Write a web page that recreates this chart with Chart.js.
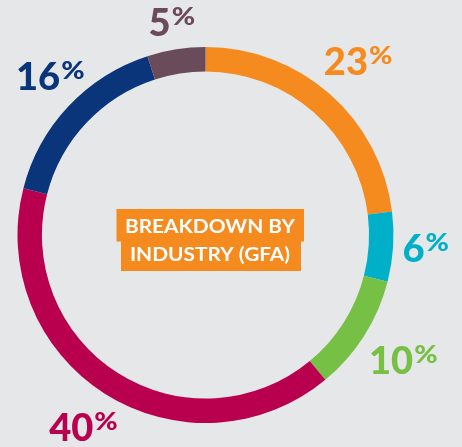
<!DOCTYPE html>
<html>
<head>
<meta charset="utf-8">
<script src="https://cdn.jsdelivr.net/npm/chart.js@4.4.1/dist/chart.umd.min.js"></script>
<style>
  html, body { margin: 0; padding: 0; background: #E6E7E9; }
  #wrap { width: 462px; height: 447px; }
</style>
</head>
<body>
<div id="wrap"><canvas id="c" width="462" height="447"></canvas></div>
<script>
const industries = ["Industry A", "Industry B", "Industry C", "Industry D", "Industry E", "Industry F"];
const shares = [23, 6, 10, 40, 16, 5];
const colors = ["#F58A1F", "#00B0C8", "#76C045", "#B8004F", "#0A357A", "#6A4B59"];
const centerTitle = ["BREAKDOWN BY", "INDUSTRY (GFA)"];

function scaledText(ctx, text, x, y, sx) {
  ctx.save();
  ctx.translate(x, y);
  ctx.scale(sx, 1);
  ctx.fillText(text, 0, 0);
  ctx.restore();
}

const bgPlugin = {
  id: 'bg',
  beforeDraw(chart) {
    const ctx = chart.ctx;
    ctx.save();
    ctx.fillStyle = '#E6E7E9';
    ctx.fillRect(0, 0, chart.width, chart.height);
    ctx.restore();
  }
};

const labelPlugin = {
  id: 'pctLabels',
  afterDatasetsDraw(chart) {
    const ctx = chart.ctx;
    const meta = chart.getDatasetMeta(0);
    const bigFont = '900 37px Lato';
    const smallFont = '900 24px Lato';
    const numSX = 1.03, pctSX = 1.18;
    const digitH = 27;
    meta.data.forEach((arc, i) => {
      const mid = (arc.startAngle + arc.endAngle) / 2;
      const cx = arc.x, cy = arc.y;
      const num = String(shares[i]);
      ctx.save();
      ctx.font = bigFont;
      const wNum = ctx.measureText(num).width * numSX;
      ctx.font = smallFont;
      const wPct = ctx.measureText('%').width * pctSX;
      const gap = 1;
      const w = wNum + gap + wPct;
      const c = Math.cos(mid), s = Math.sin(mid);
      const R = arc.outerRadius + 10 + Math.abs(c) * w / 2 + Math.abs(s) * digitH / 2;
      let px = cx + R * c;
      let py = cy + R * s;
      let left = px - w / 2;
      if (left < 16) left = 16;
      if (left + w > chart.width - 13) left = chart.width - 13 - w;
      const base = py + digitH / 2;
      ctx.fillStyle = colors[i];
      ctx.textBaseline = 'alphabetic';
      ctx.textAlign = 'left';
      ctx.font = bigFont;
      scaledText(ctx, num, left, base, numSX);
      ctx.font = smallFont;
      scaledText(ctx, '%', left + wNum + gap, base - digitH + 16, pctSX);
      ctx.restore();
    });
  }
};

const centerPlugin = {
  id: 'centerBox',
  afterDatasetsDraw(chart) {
    const ctx = chart.ctx;
    const meta = chart.getDatasetMeta(0);
    const cx = meta.data[0].x, cy = meta.data[0].y;
    ctx.save();
    ctx.fillStyle = '#F58A1F';
    ctx.fillRect(cx - 89, cy - 26, 187.5, 32.5);
    ctx.fillRect(cx - 84.5, cy + 6, 180, 30);
    ctx.fillStyle = '#FFFFFF';
    ctx.font = 'bold 19.5px Lato';
    ctx.textAlign = 'center';
    ctx.textBaseline = 'alphabetic';
    scaledText(ctx, centerTitle[0], cx + 4.5, cy - 2.5, 1.07);
    scaledText(ctx, centerTitle[1], cx + 4.5, cy + 26, 1.07);
    ctx.restore();
  }
};

new Chart(document.getElementById('c'), {
  type: 'doughnut',
  data: {
    labels: industries,
    datasets: [{
      data: shares,
      backgroundColor: colors,
      borderWidth: 0,
      hoverOffset: 0
    }]
  },
  options: {
    responsive: false,
    animation: false,
    cutout: '87%',
    layout: { padding: { left: 17.5, right: 68.5, top: 47, bottom: 24 } },
    plugins: {
      legend: { display: false },
      tooltip: { enabled: false }
    }
  },
  plugins: [bgPlugin, labelPlugin, centerPlugin]
});
</script>
</body>
</html>
